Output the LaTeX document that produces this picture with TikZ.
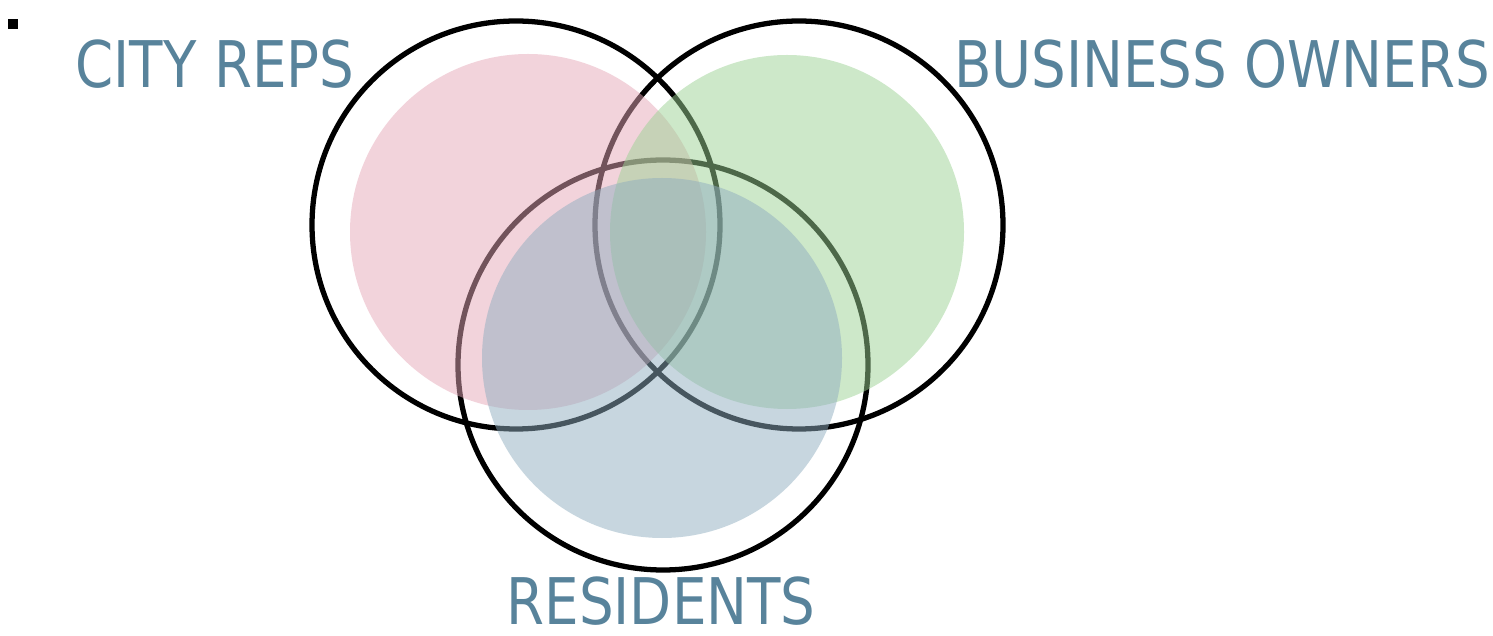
\documentclass[tikz,border=0pt]{standalone}
\usepackage{fontspec}
\usepackage{tikz}
\newfontfamily\labelfont[FakeStretch=0.85]{DejaVu Sans}
\definecolor{labelblue}{RGB}{88,131,155}
\definecolor{repspink}{RGB}{229,167,183}
\definecolor{ownersgreen}{RGB}{155,209,147}
\definecolor{residentsblue}{RGB}{143,173,191}

\begin{document}
\begin{tikzpicture}[
    ring/.style={draw=black, line width=1.5pt},
    blob/.style={fill opacity=0.5},
    group/.style={text=labelblue, font=\labelfont\fontsize{18.3}{22}\selectfont, inner sep=0pt, anchor=base}]
            \useasboundingbox (0,0) rectangle (14.93,6.35);
            \fill (0.08,6.06) rectangle (0.18,6.16);
            \draw[ring] (5.16,4.10) circle (2.04);
            \draw[ring] (7.99,4.10) circle (2.04);
            \draw[ring] (6.63,2.70) circle (2.05);
            \fill[repspink, blob] (5.28,4.03) circle (1.78);
            \fill[ownersgreen, blob] (7.87,4.03) circle (1.77);
            \fill[residentsblue, blob] (6.62,2.77) circle (1.80);
            \node[group] (reps) at (2.15,5.47) {CITY REPS};
            \node[group] (owners) at (12.22,5.47) {BUSINESS OWNERS};
            \node[group] (residents) at (6.61,0.11) {RESIDENTS};
        \end{tikzpicture}
\end{document}
